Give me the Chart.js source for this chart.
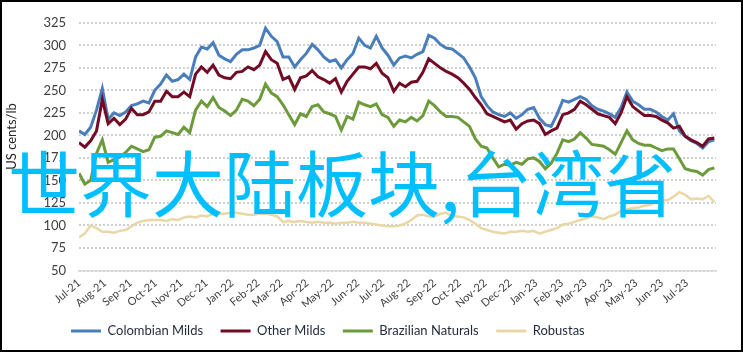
<!DOCTYPE html>
<html><head><meta charset="utf-8">
<script src="https://cdn.jsdelivr.net/npm/chart.js@4/dist/chart.umd.min.js"></script>
<style>
html,body{margin:0;padding:0;background:#fff;}
#wrap{width:743px;height:352px;box-sizing:border-box;border:2px solid #000;background:#fff;}
canvas{display:block;}
</style></head><body>
<div id="wrap"><canvas id="c" width="739" height="348"></canvas></div>
<script>
// days since 1 Jul 2021 (weekly samples)
const days = [0,7,14,21,28,35,42,49,56,63,70,77,84,91,98,105,112,119,126,133,140,147,154,161,168,175,182,189,196,203,210,217,224,231,238,245,252,259,266,273,280,287,294,301,308,315,322,329,336,343,350,357,364,371,378,385,392,399,406,413,420,427,434,441,448,455,462,469,476,483,490,497,504,511,518,525,532,539,546,553,560,567,574,581,588,595,602,609,616,623,630,637,644,651,658,665,672,679,686,693,700,707,714,721,728,735,742,749,756,763];
const monthStartDays = [0,31,62,92,123,153,184,215,243,274,304,335,365,396,427,457,488,518,549,580,608,639,669,700,730];
const monthLabels = ['Jul-21','Aug-21','Sep-21','Oct-21','Nov-21','Dec-21','Jan-22','Feb-22','Mar-22','Apr-22','May-22','Jun-22','Jul-22','Aug-22','Sep-22','Oct-22','Nov-22','Dec-22','Jan-23','Feb-23','Mar-23','Apr-23','May-23','Jun-23','Jul-23'];
const seriesNames = ['Colombian Milds','Other Milds','Brazilian Naturals','Robustas'];
const colombianMilds = [205,201,209,228,252,218,225,222,226,233,235,238,236,250,257,267,260,262,268,262,287,298,296,303,289,285,282,290,
295,295,297,300,319,310,304,287,287,276,284,291,301,295,287,282,284,275,284,291,308,300,297,310,297,289,278,
286,288,286,290,293,311,308,301,297,296,291,286,276,264,243,233,226,223,221,225,219,223,229,231,219,212,210,223,
239,237,240,243,240,233,229,227,224,220,231,248,238,234,229,229,226,221,217,224,205,199,194,191,186,193,195];
const otherMilds = [192,187,194,205,240,213,219,212,218,230,223,223,226,238,238,249,243,243,248,243,268,276,270,278,267,264,263,270,
271,276,273,278,293,284,280,262,265,251,264,266,272,265,262,258,263,248,260,268,276,276,274,280,269,264,249,
258,254,259,260,270,285,280,275,271,268,264,258,251,242,234,224,221,218,215,217,207,213,216,217,213,201,205,208,
223,225,229,238,234,229,224,222,220,213,225,243,232,227,222,222,221,217,214,208,210,199,195,192,188,196,197];
const brazilianNaturals = [158,146,150,180,195,170,173,176,181,188,185,182,184,198,199,205,203,201,209,203,228,238,232,242,231,227,222,228,
240,238,233,240,257,247,243,234,223,212,224,221,232,234,226,224,221,206,221,218,237,234,232,235,223,220,210,
217,215,220,216,222,238,233,226,221,221,220,215,210,196,188,186,175,165,168,167,170,168,174,175,171,163,169,180,
195,193,196,203,197,190,189,188,184,179,192,205,195,191,189,189,186,183,185,185,174,163,161,160,156,162,164];
const robustas = [87,91,100,97,93,93,92,94,95,99,103,105,106,106,106,105,107,106,109,110,109,111,110,113,113,113,114,114,
113,112,112,113,113,112,110,104,105,104,105,104,103,104,103,103,102,103,103,104,103,103,102,101,100,99,99,
100,102,106,111,112,110,110,113,114,110,110,109,106,102,97,95,93,92,91,93,93,94,93,94,91,93,95,97,
101,102,104,106,108,110,109,107,110,112,116,118,119,120,122,123,126,128,128,132,137,134,129,130,129,133,126];
const axisTitle = 'US cents/lb';
const overlayText = '世界大陆板块,台湾省';

const colors = ['#4A7EBB','#720B26','#6D9A3B','#EAD7A6'];
const widths = [3,3,3,2.5];
const seriesData = [colombianMilds, otherMilds, brazilianNaturals, robustas];

const datasets = seriesData.map((arr, s) => ({
  label: seriesNames[s],
  data: days.map((d, i) => ({x: d, y: arr[i]})),
  borderColor: colors[s],
  backgroundColor: colors[s],
  borderWidth: widths[s],
  pointRadius: 0,
  pointHoverRadius: 0,
  pointStyle: false,
  tension: 0,
  fill: false,
  order: 4 - s
}));

const decor = {
  id: 'decor',
  beforeDraw(chart) {
    if (chart.legend) { chart.legend.left = 51.5; }
  },
  afterDraw(chart) {
    const ctx = chart.ctx;
    ctx.save();
    ctx.font = '13px Lato';
    ctx.fillStyle = '#262626';
    ctx.translate(10, 134.5);
    ctx.rotate(-Math.PI / 2);
    ctx.textAlign = 'center';
    ctx.textBaseline = 'middle';
    ctx.fillText(axisTitle, 0, 0);
    ctx.restore();
    ctx.save();
    ctx.font = '72px "Noto Sans CJK SC"';
    ctx.fillStyle = '#00BFFF';
    ctx.textAlign = 'left';
    ctx.textBaseline = 'alphabetic';
    ctx.fillText(overlayText, 6, 209);
    ctx.restore();
  }
};

new Chart(document.getElementById('c'), {
  type: 'line',
  data: {datasets},
  plugins: [decor],
  options: {
    responsive: false,
    animation: false,
    elements: {point: {radius: 0, hoverRadius: 0, pointStyle: false}},
    layout: {padding: {left: 0, right: 25, top: 19, bottom: 10}},
    plugins: {
      tooltip: {enabled: false},
      legend: {
        position: 'bottom', align: 'start', reverse: true, maxHeight: 33,
        labels: {
          boxWidth: 30, boxHeight: 3, padding: 17.5, color: '#1f2a3a',
          font: {family: 'Lato', size: 13},
          generateLabels: chart => Chart.defaults.plugins.legend.labels.generateLabels(chart)
            .map(it => Object.assign(it, {lineWidth: 0, fillStyle: it.strokeStyle, pointStyle: undefined}))
        }
      }
    },
    scales: {
      x: {
        type: 'linear', min: 0, max: 765,
        afterBuildTicks: s => { s.ticks = monthStartDays.map(v => ({value: v})); },
        afterFit: s => { s.height = 36.5; },
        grid: {display: false, drawTicks: false},
        border: {display: true, color: '#d9d9d9', width: 1.5},
        ticks: {autoSkip: false, maxRotation: 40, minRotation: 40, padding: 6, color: '#404040',
          font: {family: 'Lato', size: 11}, callback: (v, i) => monthLabels[i]}
      },
      y: {
        min: 50, max: 325,
        afterFit: s => { s.width = 77; },
        grid: {color: '#cfcfcf', lineWidth: 2, drawTicks: false, borderDash: [2, 2]},
        border: {display: false, dash: [2, 2]},
        ticks: {stepSize: 25, padding: 13, color: '#404040', font: {family: 'Lato', size: 13}}
      }
    }
  }
});
</script>
</body></html>
